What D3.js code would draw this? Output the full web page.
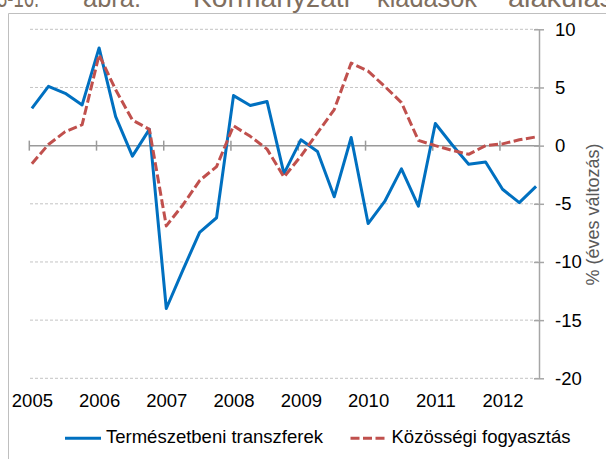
<!DOCTYPE html>
<html>
<head>
<meta charset="utf-8">
<script src="https://cdn.jsdelivr.net/npm/d3@7"></script>
<style>
  body { margin: 0; background: #fff; }
  svg { display: block; font-family: "Liberation Sans", Arial, sans-serif; }
</style>
</head>
<body>
<svg id="chart" width="606" height="459"></svg>
<script>
// quarters 2005Q1 .. 2012Q3
var quarters = [];
for (var yr = 2005; yr <= 2012; yr++) {
    for (var q = 1; q <= 4; q++) {
        if (yr == 2012 && q > 3) break;
        quarters.push(yr + "Q" + q);
    }
}

var termeszetbeni = [3.2, 5.1, 4.5, 3.5, 8.4, 2.5, -0.9, 1.4,
    -14.0, -10.7, -7.45, -6.2, 4.3, 3.45, 3.8, -2.4,
    0.5, -0.5, -4.4, 0.7, -6.7, -4.8, -2.0, -5.2,
    1.9, 0.1, -1.6, -1.4, -3.75, -4.9, -3.5];

var kozossegi = [-1.55, 0.1, 1.2, 1.8, 7.8, 4.8, 2.2, 1.4,
    -6.9, -5.1, -3.0, -1.8, 1.7, 0.8, -0.3, -2.7,
    -0.9, 1.1, 3.1, 7.1, 6.4, 5.1, 3.7, 0.45,
    0.0, -0.4, -0.75, 0.0, 0.15, 0.5, 0.75];

var years = [2005, 2006, 2007, 2008, 2009, 2010, 2011, 2012];
var yTicks = [10, 5, 0, -5, -10, -15, -20];

var seriesNames = ["Természetbeni transzferek", "Közösségi fogyasztás"];
var titleWords = ["3-16.", "ábra:", "Kormányzati", "kiadások", "alakulása"];

// quarter label -> date (middle of first month of quarter)
function qDate(s) {
    var yr = +s.substring(0, 4);
    var q = +s.substring(5);
    return new Date(yr, (q - 1) * 3, 15);
}

var svg = d3.select("#chart");

var x = d3.scaleTime()
    .domain([new Date(2005, 0, 1), new Date(2012, 6, 31)])
    .range([29.3, 539]);
var y = d3.scaleLinear().domain([-20, 10]).range([378.3, 29.3]);

// title (only its lower part is inside the picture, as in the source)
var titlePos = [[-3, 42], [83, 58], [193, 157], [377, 100], [508, 122]];
svg.append("g")
    .selectAll("text")
    .data(titleWords)
    .join("text")
    .attr("x", function (d, i) { return titlePos[i][0]; })
    .attr("y", 7)
    .attr("textLength", function (d, i) { return titlePos[i][1]; })
    .attr("lengthAdjust", "spacingAndGlyphs")
    .attr("font-size", 28)
    .attr("fill", "#7f6f5f")
    .text(function (d) { return d; });

// frame
svg.append("path")
    .attr("d", "M8.5,459V13.5H606")
    .attr("fill", "none")
    .attr("stroke", "#bfbfbf")
    .attr("stroke-width", 1);

// gridlines
svg.append("g")
    .selectAll("line")
    .data(yTicks.filter(function (d) { return d != 0; }))
    .join("line")
    .attr("x1", 30)
    .attr("x2", 539)
    .attr("y1", function (d) { return y(d); })
    .attr("y2", function (d) { return y(d); })
    .attr("stroke", "#c4c4c4")
    .attr("stroke-width", 1)
    .attr("stroke-dasharray", "3,2");

// zero line with year ticks
var y0 = y(0);
svg.append("line")
    .attr("x1", 29.3).attr("x2", 539)
    .attr("y1", y0).attr("y2", y0)
    .attr("stroke", "#9a9a9a")
    .attr("stroke-width", 1.5);
svg.append("g")
    .selectAll("line")
    .data(years)
    .join("line")
    .attr("x1", function (d) { return x(new Date(d, 0, 1)); })
    .attr("x2", function (d) { return x(new Date(d, 0, 1)); })
    .attr("y1", y0 - 5)
    .attr("y2", y0 + 5)
    .attr("stroke", "#9a9a9a")
    .attr("stroke-width", 1.5);

// right axis
var yAxis = svg.append("g")
    .attr("transform", "translate(539,0)")
    .call(d3.axisRight(y).tickValues(yTicks).tickSize(0).tickPadding(16)
        .tickFormat(function (d) { return d < 0 ? "-" + Math.abs(d) : d; }));
yAxis.select(".domain").attr("stroke", "#a6a6a6").attr("stroke-width", 1.5);
yAxis.selectAll("text")
    .attr("font-size", 18.5)
    .attr("fill", "#000")
    .attr("font-family", "Liberation Sans, Arial, sans-serif");
yAxis.selectAll(".tick")
    .append("line")
    .attr("x1", -5)
    .attr("x2", 5)
    .attr("stroke", "#a6a6a6")
    .attr("stroke-width", 1.5);

// axis title
svg.append("text")
    .attr("transform", "translate(599,214.5) rotate(-90)")
    .attr("text-anchor", "middle")
    .attr("font-size", 18)
    .attr("fill", "#595959")
    .text("% (éves változás)");

// x labels
var xAxis = svg.append("g")
    .attr("transform", "translate(0,406.7)")
    .call(d3.axisBottom(x)
        .tickValues(years.map(function (d) { return new Date(d, 0, 15); }))
        .tickSize(0)
        .tickFormat(d3.timeFormat("%Y")));
xAxis.select(".domain").remove();
xAxis.selectAll("text")
    .attr("y", 0)
    .attr("dy", null)
    .attr("font-size", 18.5)
    .attr("fill", "#000")
    .attr("font-family", "Liberation Sans, Arial, sans-serif");

// lines
var line = d3.line()
    .x(function (d, i) { return x(qDate(quarters[i])); })
    .y(function (d) { return y(d); });

svg.append("path")
    .datum(termeszetbeni)
    .attr("d", line)
    .attr("fill", "none")
    .attr("stroke", "#0070c0")
    .attr("stroke-width", 3)
    .attr("stroke-linejoin", "round");

svg.append("path")
    .datum(kozossegi)
    .attr("d", line)
    .attr("fill", "none")
    .attr("stroke", "#c0504d")
    .attr("stroke-width", 3)
    .attr("stroke-dasharray", "9,3.5")
    .attr("stroke-linejoin", "round");

// legend
var legend = [
    { name: seriesNames[0], color: "#0070c0", dash: null, x: 65 },
    { name: seriesNames[1], color: "#c0504d", dash: "9,3.5", x: 350.5 }
];
var lg = svg.append("g")
    .selectAll("g")
    .data(legend)
    .join("g")
    .attr("transform", function (d) { return "translate(" + d.x + ",438.3)"; });
lg.append("line")
    .attr("x1", 0).attr("x2", 36)
    .attr("stroke", function (d) { return d.color; })
    .attr("stroke-width", 3)
    .attr("stroke-dasharray", function (d) { return d.dash; });
lg.append("text")
    .attr("x", 41)
    .attr("y", 5)
    .attr("font-size", 18.5)
    .attr("fill", "#000")
    .text(function (d) { return d.name; });
</script>
</body>
</html>
